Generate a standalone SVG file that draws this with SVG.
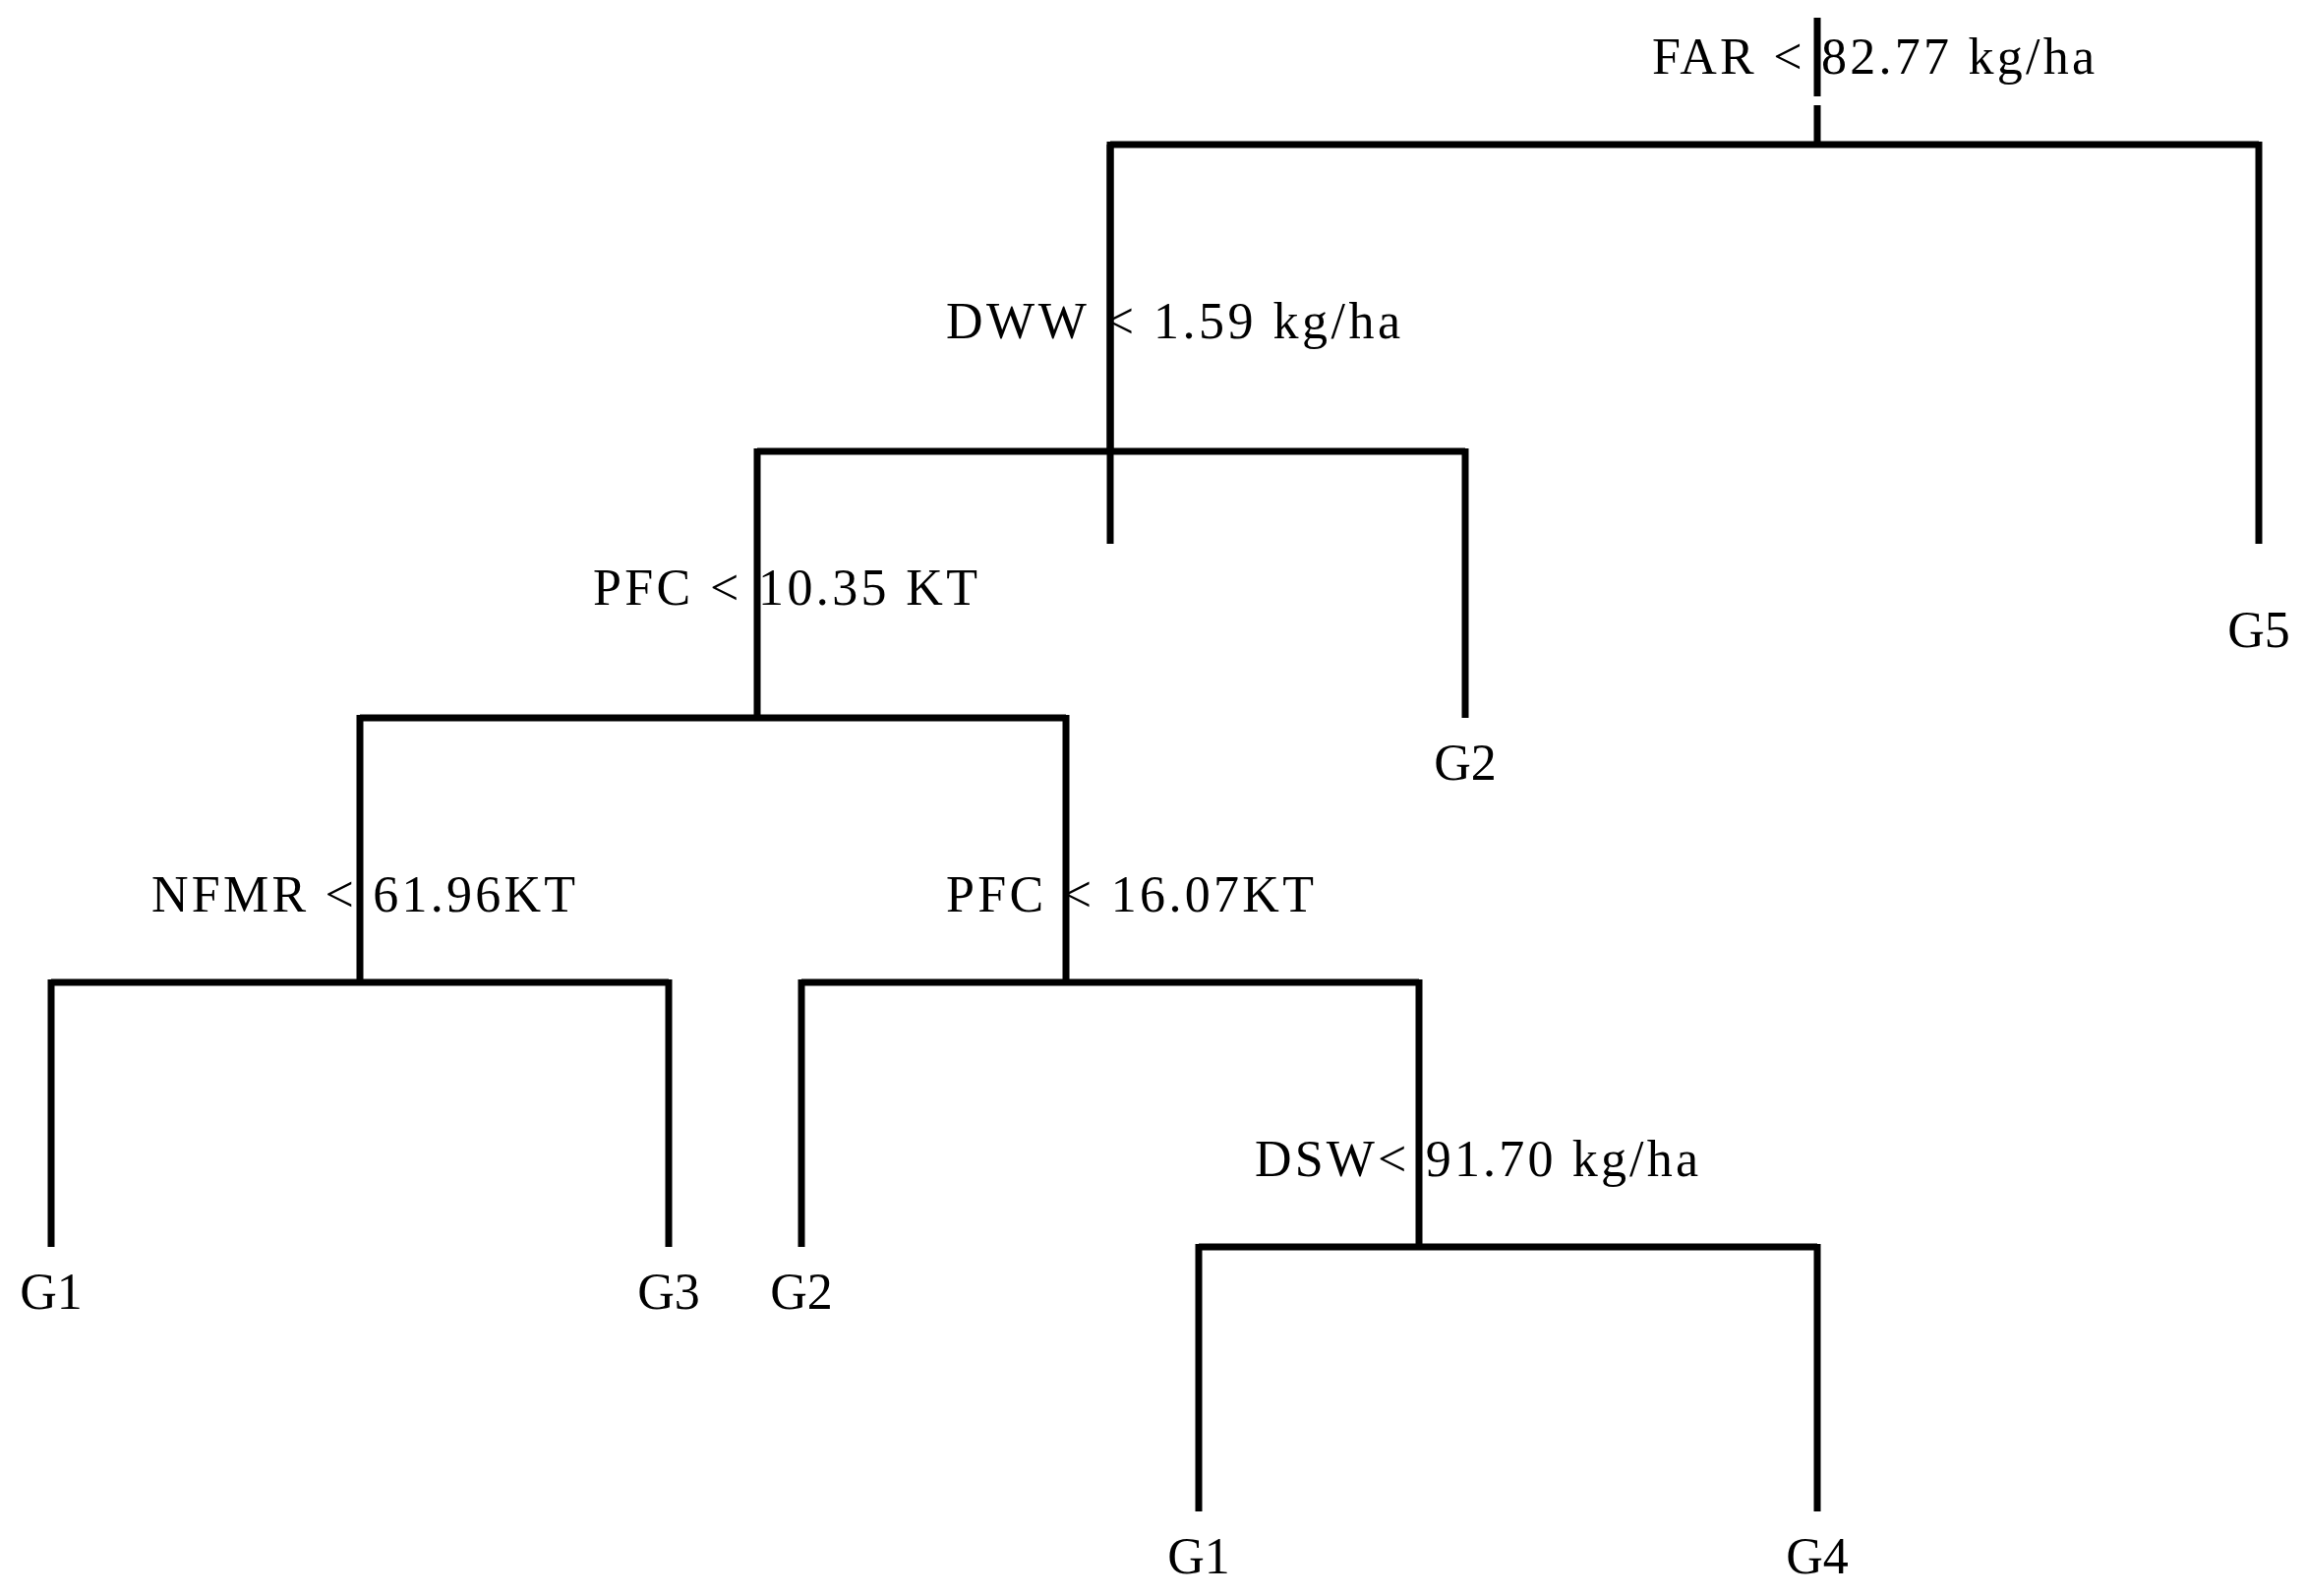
<svg xmlns="http://www.w3.org/2000/svg" width="2345" height="1623" viewBox="0 0 2345 1623">
<style>
.e{stroke:#000;stroke-width:7;fill:none;stroke-linecap:butt}
text{font-family:"Liberation Serif","Times New Roman",serif;font-size:52px;fill:#000}
.m{text-anchor:middle}
</style>
<rect width="2345" height="1623" fill="#fff"/>
<g id="connectors">
<path class="e" d="M1848 18V98M1848 107V147M1129 147H2297M1129 144V553M2297 144V553"/>
<path class="e" d="M1129 147V459M770 459H1490M1490 456V730M770 456V730"/>
<path class="e" d="M366 730H1084M366 727V999M1084 727V999"/>
<path class="e" d="M52 999H680M52 996V1268M680 996V1268"/>
<path class="e" d="M815 999H1443M815 996V1268M1443 996V1268"/>
<path class="e" d="M1219 1268H1848M1219 1265V1537M1848 1265V1537"/>
</g>
<g id="n_far"><text x="1680" y="75" textLength="450" lengthAdjust="spacing">FAR &lt; 82.77 kg/ha</text></g>
<g id="n_dww"><text x="962" y="344" textLength="462" lengthAdjust="spacing">DWW &lt; 1.59 kg/ha</text></g>
<g id="n_g5"><text class="m" x="2297" y="658">G5</text></g>
<g id="n_pfc1"><text x="603" y="615" textLength="391" lengthAdjust="spacing">PFC &lt; 10.35 KT</text></g>
<g id="n_g2a"><text class="m" x="1490" y="793">G2</text></g>
<g id="n_nfmr"><text x="154" y="927" textLength="431" lengthAdjust="spacing">NFMR &lt; 61.96KT</text></g>
<g id="n_pfc2"><text x="962" y="927" textLength="374" lengthAdjust="spacing">PFC &lt; 16.07KT</text></g>
<g id="n_dsw"><text x="1276" y="1196" textLength="451" lengthAdjust="spacing">DSW&lt; 91.70 kg/ha</text></g>
<g id="n_g1a"><text class="m" x="52" y="1331">G1</text></g>
<g id="n_g3"><text class="m" x="680" y="1331">G3</text></g>
<g id="n_g2b"><text class="m" x="815" y="1331">G2</text></g>
<g id="n_g1b"><text class="m" x="1219" y="1600">G1</text></g>
<g id="n_g4"><text class="m" x="1848" y="1600">G4</text></g>
</svg>
